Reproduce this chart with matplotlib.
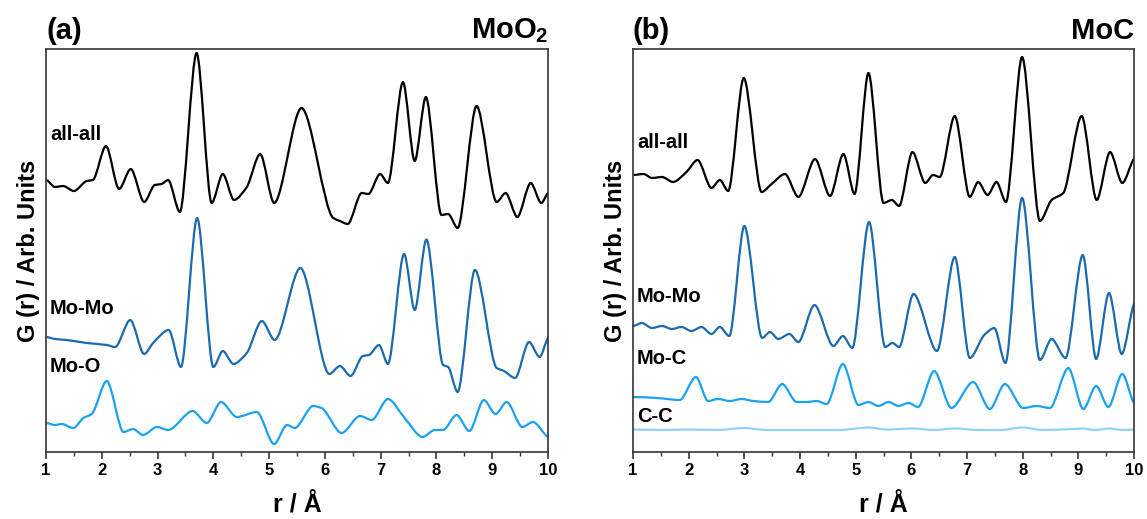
import numpy as np
import matplotlib
matplotlib.use("Agg")
import matplotlib.pyplot as plt
from matplotlib.path import Path
from matplotlib.patches import PathPatch

plt.rcParams['font.family'] = ['Liberation Sans', 'DejaVu Sans']
plt.rcParams['font.weight'] = 'bold'
plt.rcParams['mathtext.fontset'] = 'custom'
plt.rcParams['mathtext.rm'] = 'Liberation Sans'
plt.rcParams['mathtext.bf'] = 'Liberation Sans:bold'

# ---------------- Data (arbitrary units) ----------------
# Panel (a) MoO2
a_all_r = [1.00, 1.16, 1.31, 1.50, 1.73, 1.84, 2.075, 2.31, 2.52, 2.76, 2.95, 3.07, 3.19, 3.40,
           3.70, 3.97, 4.17, 4.37, 4.60, 4.84, 5.09, 5.58, 6.15, 6.27, 6.41, 6.66, 6.78, 6.99,
           7.13, 7.40, 7.61, 7.81, 8.09, 8.21, 8.38, 8.72, 9.08, 9.24, 9.45, 9.69, 9.88, 10.0]
a_all_g = [272, 265, 266, 261, 271, 272, 306, 263, 283, 250, 267, 268, 272, 240,
           399, 249, 278, 252, 265, 298, 249, 344, 234, 231, 228, 259, 258, 278,
           269, 370, 291, 355, 237, 238, 224, 346, 250, 259, 235, 269, 249, 259]

a_momo_r = [1.00, 1.16, 1.37, 1.73, 2.09, 2.24, 2.51, 2.76, 2.92, 3.20, 3.42, 3.71, 4.00, 4.17,
            4.36, 4.60, 4.87, 5.10, 5.56, 6.08, 6.27, 6.46, 6.68, 6.79, 6.97, 7.13, 7.42, 7.61,
            7.82, 8.12, 8.21, 8.38, 8.69, 9.08, 9.21, 9.41, 9.66, 9.85, 10.0]
a_momo_g = [115, 113, 112, 109, 107, 105, 132, 98, 109, 122, 85, 234, 85, 101,
            88, 99, 131, 112, 184, 78, 86, 76, 96, 97, 107, 88, 198, 142,
            212.5, 87, 85, 60, 182, 84, 81, 74, 110, 95, 114]

a_moo_r = [1.00, 1.16, 1.28, 1.49, 1.67, 1.82, 2.09, 2.39, 2.56, 2.74, 2.99, 3.19, 3.63, 3.88,
           4.14, 4.42, 4.78, 5.09, 5.32, 5.46, 5.79, 5.94, 6.30, 6.63, 6.84, 7.13, 7.43, 7.75,
           7.97, 8.12, 8.36, 8.59, 8.85, 9.06, 9.26, 9.54, 9.73, 10.0]
a_moo_g = [29, 27, 28, 24, 34, 38, 71, 20, 23, 17, 25, 22, 41, 29,
           50, 35, 40, 8, 27, 24, 46, 44, 19, 36, 32, 53, 34, 15,
           22, 22, 37, 21, 52, 38, 50, 25, 30, 15]

# Panel (b) MoC
b_all_r = [1.00, 1.19, 1.34, 1.52, 1.72, 1.96, 2.16, 2.41, 2.56, 2.71, 2.99, 3.31, 3.49, 3.73,
           3.97, 4.27, 4.54, 4.78, 4.98, 5.23, 5.50, 5.65, 5.78, 6.02, 6.25, 6.39, 6.51, 6.78,
           7.05, 7.20, 7.37, 7.53, 7.70, 7.99, 8.31, 8.52, 8.73, 9.06, 9.33, 9.57, 9.79, 10.0]
b_all_g = [277, 278, 274, 275, 270, 280, 292, 264, 272, 261, 374, 260, 268, 278,
           255, 293, 256, 298, 258, 379, 249, 252, 246, 300, 269, 277, 275, 336,
           255, 270, 257, 270, 250, 395, 231, 252, 259, 336, 252, 300, 269, 293]

b_momo_r = [1.00, 1.16, 1.34, 1.52, 1.70, 1.87, 2.05, 2.23, 2.41, 2.56, 2.73, 3.00, 3.32, 3.46,
            3.61, 3.81, 3.97, 4.26, 4.60, 4.77, 4.94, 5.24, 5.53, 5.66, 5.78, 6.04, 6.46, 6.78,
            7.05, 7.31, 7.49, 7.69, 7.99, 8.31, 8.52, 8.77, 9.08, 9.32, 9.55, 9.78, 10.0]
b_momo_g = [126, 129, 124, 126, 123, 125, 121, 125, 118, 125, 116, 226, 114, 120,
            113, 118, 110, 147, 106, 116, 104, 230, 105, 109, 105, 158, 101, 195,
            94, 117, 124, 89, 254, 92, 113, 94, 197, 93, 159, 98, 148]

b_moc_r = [1.00, 1.43, 1.84, 2.13, 2.35, 2.53, 2.74, 2.95, 3.16, 3.43, 3.68, 3.94, 4.12, 4.30,
           4.48, 4.77, 5.05, 5.23, 5.41, 5.59, 5.77, 5.95, 6.12, 6.41, 6.72, 7.11, 7.41, 7.68,
           8.01, 8.25, 8.49, 8.82, 9.09, 9.32, 9.54, 9.79, 10.0]
b_moc_g = [55, 54, 52, 75, 51, 53, 51, 53, 51, 50, 68, 50, 50, 51,
           48, 88, 47, 50, 46, 50, 46, 49, 45, 81, 44, 70, 43, 68,
           44, 46, 44, 84, 43, 66, 45, 78, 49]

b_cc_r = [1.00, 1.50, 2.00, 2.50, 3.00, 3.40, 3.80, 4.30, 4.70, 5.23, 5.55, 6.04, 6.40, 6.78,
          7.20, 7.60, 8.00, 8.35, 8.70, 9.08, 9.30, 9.55, 9.80, 10.0]
b_cc_g = [22.5, 22, 22.5, 22, 24, 22, 22, 22, 22, 24.5, 22.5, 23.5, 22, 23.5,
          22, 22, 24.5, 22, 22.5, 23.5, 22, 23.5, 22, 22.5]

x_ticks = [1, 2, 3, 4, 5, 6, 7, 8, 9, 10]
x_tick_labels = [str(t) for t in x_ticks]

# ---------------- Style ----------------
C_ALL = '#000000'
C_MOMO = '#1a6aad'
C_MID = '#19a2ef'
C_CC = '#8fd2f6'
LW = 1.6
LABEL_FS = 14.5


def smooth_curve(ax, xs, ys, color, lw=LW, handle=0.3):
    """Draw a smooth monotone (PCHIP-type) Bezier path through the given points."""
    x = np.asarray(xs, float)
    y = np.asarray(ys, float)
    h = np.diff(x)
    delta = np.diff(y) / h
    n = len(x)
    d = np.zeros(n)
    for k in range(1, n - 1):
        if delta[k - 1] * delta[k] > 0:
            w1 = 2 * h[k] + h[k - 1]
            w2 = h[k] + 2 * h[k - 1]
            d[k] = (w1 + w2) / (w1 / delta[k - 1] + w2 / delta[k])
    d[-1] = delta[-1] * 0.5
    verts = [(x[0], y[0])]
    codes = [Path.MOVETO]
    for k in range(n - 1):
        t = h[k] * handle
        verts += [(x[k] + t, y[k] + d[k] * t),
                  (x[k + 1] - t, y[k + 1] - d[k + 1] * t),
                  (x[k + 1], y[k + 1])]
        codes += [Path.CURVE4] * 3
    ax.add_patch(PathPatch(Path(verts, codes), facecolor='none', edgecolor=color,
                           lw=lw, capstyle='round', joinstyle='round'))


W, H = 1147, 519
fig = plt.figure(figsize=(W / 100, H / 100), dpi=100)
ax_a = fig.add_axes([46 / W, 1 - 452 / H, 502 / W, 403 / H])
ax_b = fig.add_axes([633 / W, 1 - 452 / H, 501 / W, 403 / H])

for ax in (ax_a, ax_b):
    ax.set_xlim(1, 10)
    ax.set_ylim(0, 403)
    ax.set_xticks(x_ticks)
    ax.set_xticklabels(x_tick_labels, fontsize=12, fontweight='bold')
    ax.set_xticks(np.arange(1.5, 10, 1.0), minor=True)
    ax.tick_params(axis='x', which='major', direction='out', length=5, width=1.2,
                   color='#333333', pad=3)
    ax.tick_params(axis='x', which='minor', direction='out', length=3, width=1.0,
                   color='#333333')
    ax.set_yticks([])
    for s in ax.spines.values():
        s.set_color('#333333')
        s.set_linewidth(1.2)
    ax.set_ylabel('G (r) / Arb. Units', fontsize=17, fontweight='bold', labelpad=4)
    ax.set_xlabel('r / Å', fontsize=18, fontweight='bold', labelpad=10)

# Panel (a)
smooth_curve(ax_a, a_all_r, a_all_g, C_ALL)
smooth_curve(ax_a, a_momo_r, a_momo_g, C_MOMO)
smooth_curve(ax_a, a_moo_r, a_moo_g, C_MID)
ax_a.text(1.07, 318, 'all-all', fontsize=LABEL_FS, fontweight='bold', va='center', ha='left')
ax_a.text(1.07, 143, 'Mo-Mo', fontsize=LABEL_FS, fontweight='bold', va='center', ha='left')
ax_a.text(1.07, 86, 'Mo-O', fontsize=LABEL_FS, fontweight='bold', va='center', ha='left')
ax_a.text(0.0, 1.01, '(a)', transform=ax_a.transAxes, fontsize=21, fontweight='bold',
          ha='left', va='bottom')
ax_a.text(1.0, 1.01, r'MoO$_\mathbf{2}$', transform=ax_a.transAxes, fontsize=21,
          fontweight='bold', ha='right', va='bottom')

# Panel (b)
smooth_curve(ax_b, b_all_r, b_all_g, C_ALL)
smooth_curve(ax_b, b_momo_r, b_momo_g, C_MOMO)
smooth_curve(ax_b, b_moc_r, b_moc_g, C_MID)
smooth_curve(ax_b, b_cc_r, b_cc_g, C_CC)
ax_b.text(1.07, 310, 'all-all', fontsize=LABEL_FS, fontweight='bold', va='center', ha='left')
ax_b.text(1.07, 156, 'Mo-Mo', fontsize=LABEL_FS, fontweight='bold', va='center', ha='left')
ax_b.text(1.07, 93, 'Mo-C', fontsize=LABEL_FS, fontweight='bold', va='center', ha='left')
ax_b.text(1.07, 36, 'C-C', fontsize=LABEL_FS, fontweight='bold', va='center', ha='left')
ax_b.text(0.0, 1.01, '(b)', transform=ax_b.transAxes, fontsize=21, fontweight='bold',
          ha='left', va='bottom')
ax_b.text(1.0, 1.01, 'MoC', transform=ax_b.transAxes, fontsize=21,
          fontweight='bold', ha='right', va='bottom')

fig.savefig('out.png', dpi=100)
